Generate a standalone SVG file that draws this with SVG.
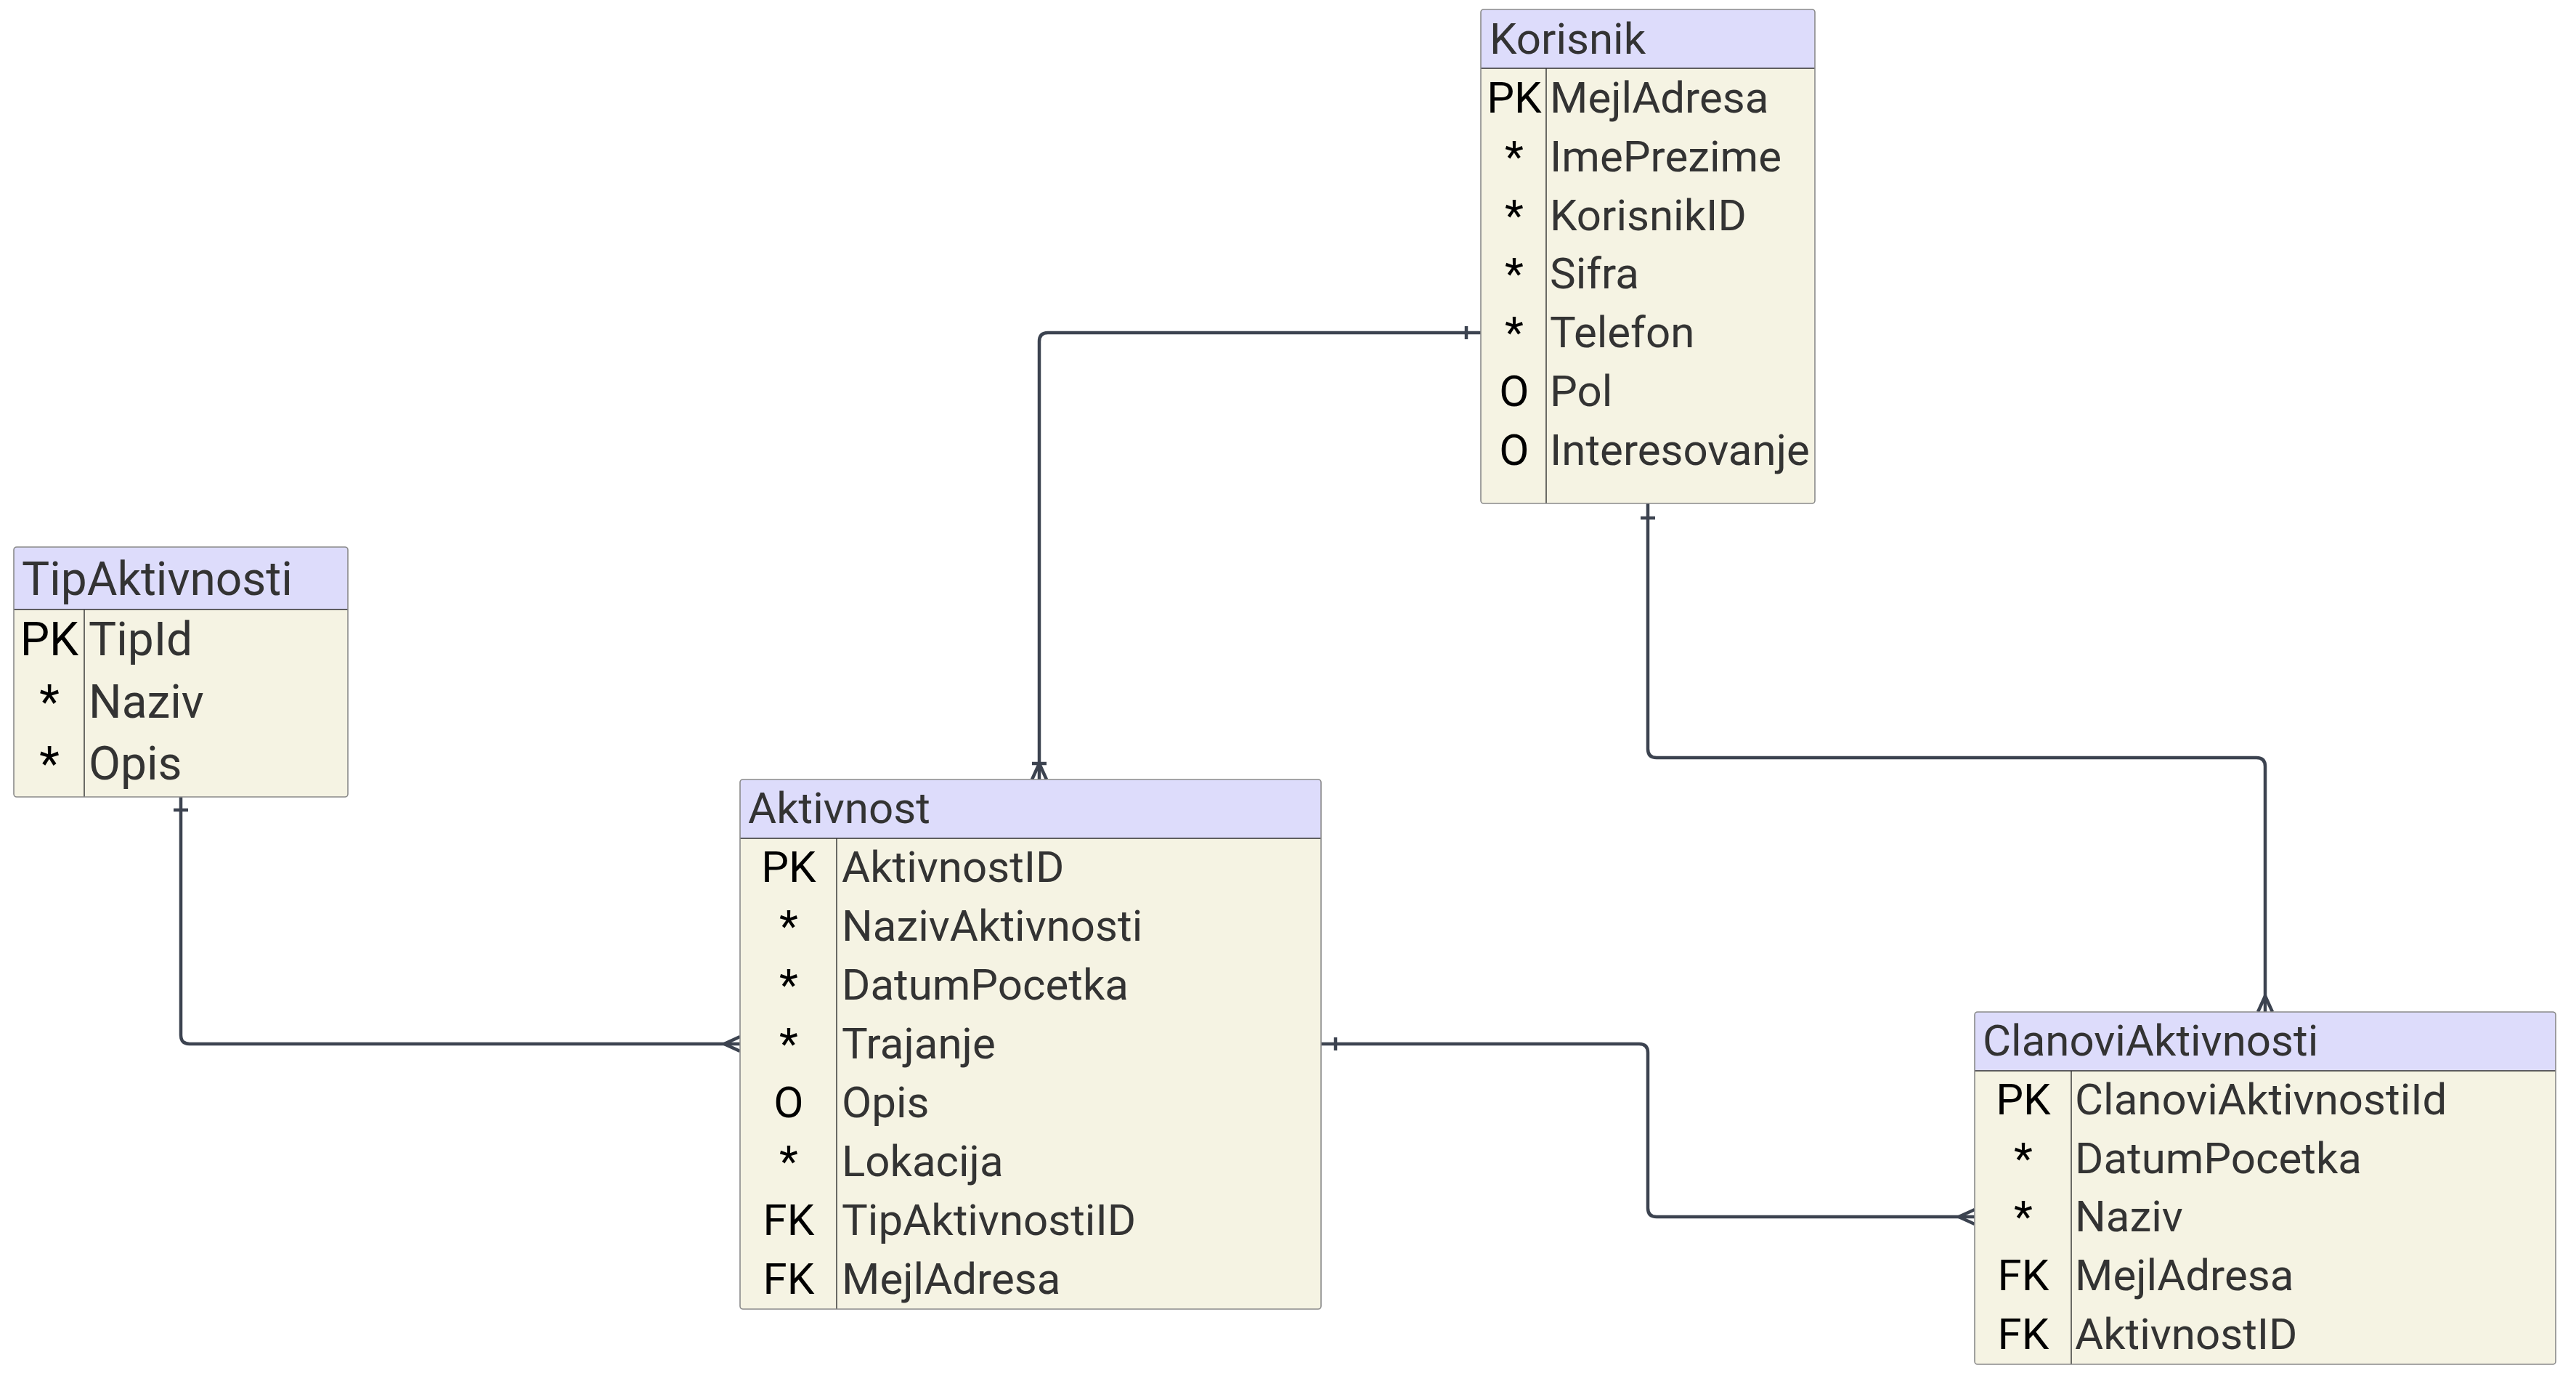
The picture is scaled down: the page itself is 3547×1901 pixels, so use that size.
<svg xmlns="http://www.w3.org/2000/svg" width="3547" height="1901" viewBox="0 0 3547 1901">
<style>
.bg{fill:#ffffff}
.body{fill:#f5f3e3}
.hdr{fill:#dddcfb}
.outline{fill:none;stroke:#8a8a8a;stroke-width:1.6}
.sep{stroke:#2f2f2f;stroke-width:1.4}
.t{font-family:Roboto,"Liberation Sans",sans-serif;font-size:60px}
.tb{font-family:Roboto,"Liberation Sans",sans-serif;font-size:64px}
.name{fill:#333333}
.key{fill:#000000;text-anchor:middle}
.conn path,.conn line{fill:none;stroke:#3c4350;stroke-width:4.5;stroke-linecap:butt}
</style>
<rect class="bg" x="0" y="0" width="3547" height="1901"/>

<g id="connectors" class="conn">
  <!-- Korisnik -> Aktivnost -->
  <path d="M2039 458 H1443 Q1431 458 1431 470 V1073"/>
  <line x1="2019" y1="449" x2="2019" y2="467"/>
  <line x1="1421" y1="1051" x2="1441" y2="1051"/>
  <path d="M1431 1051 L1421 1073 M1431 1051 L1441 1073"/>
  <!-- Korisnik -> ClanoviAktivnosti -->
  <path d="M2269 693 V1031 Q2269 1043 2281 1043 H3107 Q3119 1043 3119 1055 V1393"/>
  <line x1="2259" y1="713" x2="2279" y2="713"/>
  <path d="M3119 1371 L3109 1393 M3119 1371 L3129 1393"/>
  <!-- TipAktivnosti -> Aktivnost -->
  <path d="M249 1097 V1425 Q249 1437 261 1437 H1019"/>
  <line x1="239" y1="1115" x2="259" y2="1115"/>
  <path d="M997 1437 L1019 1427 M997 1437 L1019 1447"/>
  <!-- Aktivnost -> ClanoviAktivnosti -->
  <path d="M1819 1437 H2257 Q2269 1437 2269 1449 V1663 Q2269 1675 2281 1675 H2719"/>
  <line x1="1839" y1="1428" x2="1839" y2="1446"/>
  <path d="M2697 1675 L2719 1665 M2697 1675 L2719 1685"/>
</g>

<g id="Korisnik">
  <rect class="body" x="2039" y="13" width="460" height="680" rx="4"/>
  <path class="hdr" d="M2039 94 V17 Q2039 13 2043 13 H2495 Q2499 13 2499 17 V94 Z"/>
  <line class="sep" x1="2039" y1="94" x2="2499" y2="94"/>
  <line class="sep" x1="2129" y1="94" x2="2129" y2="693"/>
  <rect class="outline" x="2039" y="13" width="460" height="680" rx="4"/>
  <text class="t name" x="2051" y="74">Korisnik</text>
  <text class="t key" x="2085" y="155">PK</text><text class="t name" x="2134" y="155">MejlAdresa</text>
  <text class="t key" x="2085" y="236">*</text><text class="t name" x="2134" y="236">ImePrezime</text>
  <text class="t key" x="2085" y="317">*</text><text class="t name" x="2134" y="317">KorisnikID</text>
  <text class="t key" x="2085" y="397">*</text><text class="t name" x="2134" y="397">Sifra</text>
  <text class="t key" x="2085" y="478">*</text><text class="t name" x="2134" y="478">Telefon</text>
  <text class="t key" x="2085" y="559">O</text><text class="t name" x="2134" y="559">Pol</text>
  <text class="t key" x="2085" y="640">O</text><text class="t name" x="2134" y="640">Interesovanje</text>
</g>

<g id="TipAktivnosti">
  <rect class="body" x="19" y="753" width="460" height="344" rx="4"/>
  <path class="hdr" d="M19 839 V757 Q19 753 23 753 H475 Q479 753 479 757 V839 Z"/>
  <line class="sep" x1="19" y1="839" x2="479" y2="839"/>
  <line class="sep" x1="116" y1="839" x2="116" y2="1097"/>
  <rect class="outline" x="19" y="753" width="460" height="344" rx="4"/>
  <text class="tb name" x="30" y="819">TipAktivnosti</text>
  <text class="tb key" x="68" y="902">PK</text><text class="tb name" x="122" y="902">TipId</text>
  <text class="tb key" x="68" y="988">*</text><text class="tb name" x="122" y="988">Naziv</text>
  <text class="tb key" x="68" y="1073">*</text><text class="tb name" x="122" y="1073">Opis</text>
</g>

<g id="Aktivnost">
  <rect class="body" x="1019" y="1073" width="800" height="729" rx="4"/>
  <path class="hdr" d="M1019 1154 V1077 Q1019 1073 1023 1073 H1815 Q1819 1073 1819 1077 V1154 Z"/>
  <line class="sep" x1="1019" y1="1154" x2="1819" y2="1154"/>
  <line class="sep" x1="1152" y1="1154" x2="1152" y2="1802"/>
  <rect class="outline" x="1019" y="1073" width="800" height="729" rx="4"/>
  <text class="t name" x="1030" y="1133">Aktivnost</text>
  <text class="t key" x="1086" y="1214">PK</text><text class="t name" x="1159" y="1214">AktivnostID</text>
  <text class="t key" x="1086" y="1295">*</text><text class="t name" x="1159" y="1295">NazivAktivnosti</text>
  <text class="t key" x="1086" y="1376">*</text><text class="t name" x="1159" y="1376">DatumPocetka</text>
  <text class="t key" x="1086" y="1457">*</text><text class="t name" x="1159" y="1457">Trajanje</text>
  <text class="t key" x="1086" y="1538">O</text><text class="t name" x="1159" y="1538">Opis</text>
  <text class="t key" x="1086" y="1619">*</text><text class="t name" x="1159" y="1619">Lokacija</text>
  <text class="t key" x="1086" y="1700">FK</text><text class="t name" x="1159" y="1700">TipAktivnostiID</text>
  <text class="t key" x="1086" y="1781">FK</text><text class="t name" x="1159" y="1781">MejlAdresa</text>
</g>

<g id="ClanoviAktivnosti">
  <rect class="body" x="2719" y="1393" width="800" height="485" rx="4"/>
  <path class="hdr" d="M2719 1474 V1397 Q2719 1393 2723 1393 H3515 Q3519 1393 3519 1397 V1474 Z"/>
  <line class="sep" x1="2719" y1="1474" x2="3519" y2="1474"/>
  <line class="sep" x1="2852" y1="1474" x2="2852" y2="1878"/>
  <rect class="outline" x="2719" y="1393" width="800" height="485" rx="4"/>
  <text class="t name" x="2730" y="1453">ClanoviAktivnosti</text>
  <text class="t key" x="2786" y="1534">PK</text><text class="t name" x="2857" y="1534">ClanoviAktivnostiId</text>
  <text class="t key" x="2786" y="1615">*</text><text class="t name" x="2857" y="1615">DatumPocetka</text>
  <text class="t key" x="2786" y="1695">*</text><text class="t name" x="2857" y="1695">Naziv</text>
  <text class="t key" x="2786" y="1776">FK</text><text class="t name" x="2857" y="1776">MejlAdresa</text>
  <text class="t key" x="2786" y="1857">FK</text><text class="t name" x="2857" y="1857">AktivnostID</text>
</g>
</svg>
